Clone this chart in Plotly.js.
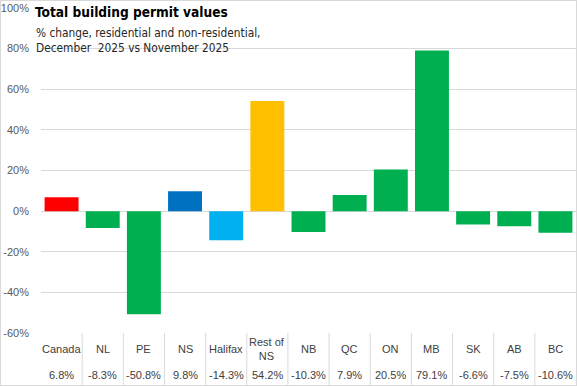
<!DOCTYPE html>
<html>
<head>
<meta charset="utf-8">
<script src="https://cdn.plot.ly/plotly-3.0.1.min.js"></script>
<style>
html,body{margin:0;padding:0;background:#fff;}
#wrap{position:relative;width:577px;height:386px;}
#chart{width:577px;height:386px;}
#frame{position:absolute;left:0;top:0;width:577px;height:386px;box-sizing:border-box;border:1px solid #d9d9d9;pointer-events:none;}
</style>
</head>
<body>
<div id="wrap"><div id="chart"></div><div id="frame"></div></div>
<script>
const categories = ['Canada','NL','PE','NS','Halifax','Rest of NS','NB','QC','ON','MB','SK','AB','BC'];
const values = [6.8,-8.3,-50.8,9.8,-14.3,54.2,-10.3,7.9,20.5,79.1,-6.6,-7.5,-10.6];
const barColors = ['#FF0000','#00B050','#00B050','#0070C0','#00B0F0','#FFC000','#00B050','#00B050','#00B050','#00B050','#00B050','#00B050','#00B050'];
const yTickValues = [-60,-40,-20,0,20,40,60,80,100];

const W = 577, H = 386;
const mL = 41, mR = 1, mT = 8, mB = 53;
const plotH = H - mT - mB;
const py = (pix) => (H - mB - pix) / plotH; // pixel y -> paper y

const font = "'Liberation Sans', Arial, sans-serif";
const narrow = "'Liberation Sans Narrow', 'DejaVu Sans Condensed', 'Roboto', sans-serif";

const trace = {
  type: 'bar',
  x: categories,
  y: values,
  marker: {color: barColors},
  hoverinfo: 'skip'
};

const shapes = [];
const annotations = [];
for (let i = 0; i < categories.length; i++) {
  if (i < categories.length - 1) {
    shapes.push({type:'line', xref:'x', yref:'paper', x0:i+0.5, x1:i+0.5, y0:0, y1:py(386), line:{color:'#d9d9d9', width:1}});
  }
  annotations.push({xref:'x', yref:'paper', x:i, y:py(349), text:categories[i].replace('Rest of ', 'Rest of<br>'), showarrow:false, xanchor:'center', yanchor:'middle', font:{family:font, size:11, color:'#404040'}});
  annotations.push({xref:'x', yref:'paper', x:i, y:py(375), text:values[i].toFixed(1)+'%', showarrow:false, xanchor:'center', yanchor:'middle', font:{family:font, size:11, color:'#404040'}});
}
annotations.push({xref:'paper', yref:'paper', x:(34-mL)/(W-mL-mR), y:py(40.5), xanchor:'left', yanchor:'middle', align:'left', showarrow:false,
  text:'% change, residential and non-residential,<br>December  2025 vs November 2025', font:{family:narrow, size:11.8, color:'#262626'}});

const layout = {
  width: W, height: H,
  margin: {l:mL, r:mR, t:mT, b:mB, pad:0},
  paper_bgcolor:'#ffffff', plot_bgcolor:'#ffffff',
  showlegend:false,
  bargap: 0.175,
  title: {text:'<b>Total building permit values</b>', xref:'container', yref:'container', x:35/W, xanchor:'left', y:1-12/H, yanchor:'middle',
    font:{family:narrow, size:13.6, color:'#000000'}},
  xaxis: {showticklabels:false, showgrid:false, zeroline:false, showline:false, ticks:'', range:[-0.5, categories.length-0.5], fixedrange:true},
  yaxis: {range:[-60,100], tickvals:yTickValues, ticktext:yTickValues.map(v=>v+'%'), showgrid:true, gridcolor:'#d9d9d9', gridwidth:1,
    zeroline:true, zerolinecolor:'#d9d9d9', zerolinewidth:1, showline:false, ticks:'', ticklabelstandoff:11,
    tickfont:{family:font, size:11, color:'#595959'}, fixedrange:true},
  shapes: shapes,
  annotations: annotations
};

Plotly.newPlot('chart', [trace], layout, {displayModeBar:false, staticPlot:true});
</script>
</body>
</html>
